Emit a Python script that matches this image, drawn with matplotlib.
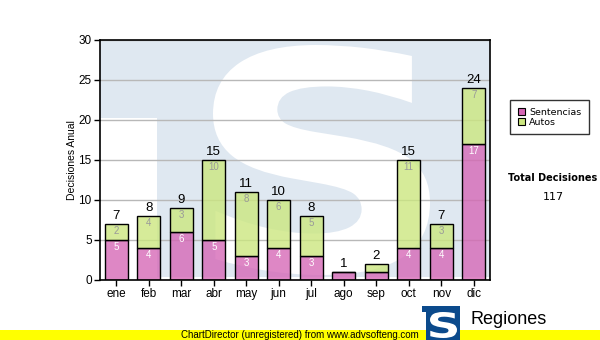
import matplotlib
matplotlib.use("Agg")
import matplotlib.pyplot as plt
from matplotlib.patches import Rectangle, PathPatch
from matplotlib.textpath import TextPath
from matplotlib.font_manager import FontProperties
from matplotlib.transforms import Affine2D
import numpy as np

plt.rcParams['font.family'] = ['Liberation Sans', 'DejaVu Sans']

months = ["ene", "feb", "mar", "abr", "may", "jun", "jul", "ago", "sep", "oct", "nov", "dic"]
sentencias = [5, 4, 6, 5, 3, 4, 3, 1, 1, 4, 4, 17]
autos = [2, 4, 3, 10, 8, 6, 5, 0, 1, 11, 3, 7]
series_names = ["Sentencias", "Autos"]
y_label = "Decisiones Anual"

totals = [s + a for s, a in zip(sentencias, autos)]
grand_total = sum(totals)

PINK = (0.835, 0.40, 0.71, 0.78)
GREEN = (0.80, 0.905, 0.50, 0.80)
WATER = "#dfe8f1"

W, H = 600, 340
fig = plt.figure(figsize=(W / 100, H / 100), dpi=100)
ax = fig.add_axes([100 / W, 60 / H, 390 / W, 240 / H])
ax.set_facecolor("white")


def glyph_patch(char, box, transform, color, zorder):
    """Draw a bold glyph stretched into box=(x0, y0, x1, y1)."""
    tp = TextPath((0, 0), char, size=100,
                  prop=FontProperties(family="DejaVu Sans", weight="bold"))
    ext = tp.get_extents()
    x0, y0, x1, y1 = box
    tr = (Affine2D().translate(-ext.x0, -ext.y0)
          .scale((x1 - x0) / ext.width, (y1 - y0) / ext.height)
          .translate(x0, y0))
    return PathPatch(tr.transform_path(tp), transform=transform,
                     facecolor=color, edgecolor="none", zorder=zorder)


# background logo watermark: light-blue T-shaped block with a white S
ax.add_patch(Rectangle((0, 162 / 240), 1, 78 / 240, transform=ax.transAxes,
                       facecolor=WATER, edgecolor="none", zorder=0.1))
ax.add_patch(Rectangle((57 / 390, 3 / 240), 1 - 57 / 390, 237 / 240,
                       transform=ax.transAxes, facecolor=WATER,
                       edgecolor="none", zorder=0.1))
ax.add_patch(glyph_patch("S", (113 / 390, 5 / 240, 330 / 390, 235 / 240),
                         ax.transAxes, "white", 0.2))

x = np.arange(len(months))
bw = 0.72
ax.bar(x, sentencias, width=bw, color=PINK, edgecolor="black",
       linewidth=1, zorder=2, label=series_names[0])
ax.bar(x, autos, width=bw, bottom=sentencias, color=GREEN, edgecolor="black",
       linewidth=1, zorder=2, label=series_names[1])

for i in range(len(months)):
    if sentencias[i] >= 2:
        ax.text(x[i], sentencias[i] - 0.85, str(sentencias[i]), ha="center",
                va="center", fontsize=7, color="white", zorder=3)
    if autos[i] >= 2:
        ax.text(x[i], totals[i] - 0.85, str(autos[i]), ha="center",
                va="center", fontsize=7, color="#999999", zorder=3)
    ax.text(x[i], totals[i] + 0.2, str(totals[i]), ha="center", va="bottom",
            fontsize=9.5, color="black", zorder=3)

ax.set_xlim(-0.5, len(months) - 0.5)
ax.set_ylim(0, 30)
ax.set_yticks(range(0, 31, 5))
ax.set_xticks(x)
ax.set_xticklabels(months)
ax.tick_params(axis="both", labelsize=8.5, length=4, width=1, pad=2,
               color="black")
ax.set_axisbelow(True)
ax.yaxis.grid(True, color="#b8b8b8", linewidth=1)
for s in ax.spines.values():
    s.set_linewidth(1.2)
    s.set_zorder(4)
ax.set_ylabel(y_label, fontsize=7.5, labelpad=1)

# legend box
leg = ax.legend(loc="upper left", bbox_to_anchor=(510 / W, 1 - 100 / H),
                bbox_transform=fig.transFigure, frameon=True, fancybox=False,
                prop=FontProperties(family="DejaVu Sans", size=6.8),
                handlelength=0.8, handleheight=0.8, handletextpad=0.4,
                borderpad=0.8, labelspacing=0.1, borderaxespad=0)
leg.get_frame().set_edgecolor("black")
leg.get_frame().set_linewidth(1)
for h in leg.legend_handles:
    h.set_alpha(1)
    h.set_edgecolor("black")
    h.set_linewidth(0.8)

fig.text(553 / W, 1 - 178 / H, "Total Decisiones", ha="center", va="center",
         fontsize=7, fontweight="bold", family="DejaVu Sans")
fig.text(553 / W, 1 - 197 / H, str(grand_total), ha="center", va="center",
         fontsize=8, family="DejaVu Sans")

# footer band
fig.patches.append(Rectangle((0, 0), 1, 10 / H, transform=fig.transFigure,
                             facecolor="#ffff00", edgecolor="none", zorder=1))
fig.text(300 / W, 5 / H, "ChartDirector (unregistered) from www.advsofteng.com",
         ha="center", va="center", fontsize=7, zorder=2)

# footer logo: blue T block with a white S
fig.patches.append(Rectangle((422 / W, 28 / H), 38 / W, 6 / H,
                             transform=fig.transFigure, facecolor="#0b4a8c",
                             edgecolor="none", zorder=3))
fig.patches.append(Rectangle((426 / W, 0), 34 / W, 30 / H,
                             transform=fig.transFigure, facecolor="#0b4a8c",
                             edgecolor="none", zorder=3))
fig.patches.append(glyph_patch("S", (430 / W, 2 / H, 457 / W, 28 / H),
                               fig.transFigure, "white", 4))
fig.text(470 / W, 1 - 324 / H, "Regiones", ha="left", va="baseline",
         fontsize=13, zorder=3)

fig.savefig("out.png", dpi=100)
